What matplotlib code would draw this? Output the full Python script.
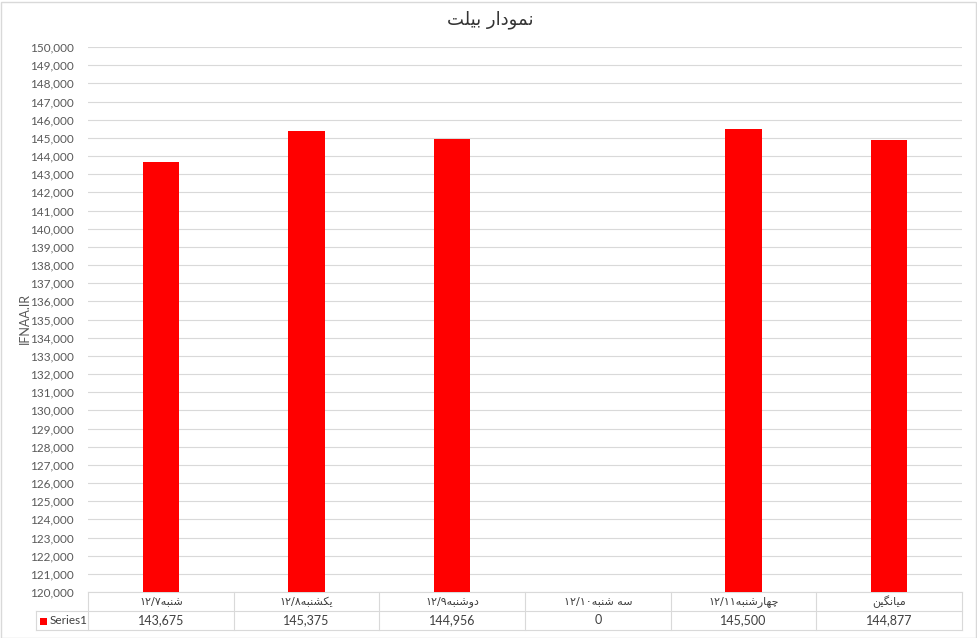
import matplotlib
matplotlib.use("Agg")
import matplotlib.pyplot as plt
from matplotlib.patches import Rectangle
from matplotlib.lines import Line2D
import matplotlib.transforms as mtransforms

# ---------------- data ----------------
title = "نمودار بیلت"
ylabel = "IFNAA.IR"
categories = ["شنبه۱۲/۷", "یکشنبه۱۲/۸", "دوشنبه۱۲/۹", "سه شنبه۱۲/۱۰", "چهارشنبه۱۲/۱۱", "میانگین"]
values = [143675, 145375, 144956, 0, 145500, 144877]
series_name = "Series1"
y_min, y_max, y_step = 120000, 150000, 1000

# ---------------- minimal Persian shaping (visual order) ----------------
FORMS = {
    '\u0627': ('\uFE8D', '\uFE8E', None, None),
    '\u0628': ('\uFE8F', '\uFE90', '\uFE91', '\uFE92'),
    '\u062A': ('\uFE95', '\uFE96', '\uFE97', '\uFE98'),
    '\u062C': ('\uFE9D', '\uFE9E', '\uFE9F', '\uFEA0'),
    '\u062F': ('\uFEA9', '\uFEAA', None, None),
    '\u0631': ('\uFEAD', '\uFEAE', None, None),
    '\u0633': ('\uFEB1', '\uFEB2', '\uFEB3', '\uFEB4'),
    '\u0634': ('\uFEB5', '\uFEB6', '\uFEB7', '\uFEB8'),
    '\u0644': ('\uFEDD', '\uFEDE', '\uFEDF', '\uFEE0'),
    '\u0645': ('\uFEE1', '\uFEE2', '\uFEE3', '\uFEE4'),
    '\u0646': ('\uFEE5', '\uFEE6', '\uFEE7', '\uFEE8'),
    '\u0647': ('\uFEE9', '\uFEEA', '\uFEEB', '\uFEEC'),
    '\u0648': ('\uFEED', '\uFEEE', None, None),
    '\u06CC': ('\uFBFC', '\uFBFD', '\uFBFE', '\uFBFF'),
    '\u06A9': ('\uFB8E', '\uFB8F', '\uFB90', '\uFB91'),
    '\u06AF': ('\uFB92', '\uFB93', '\uFB94', '\uFB95'),
    '\u0686': ('\uFB7A', '\uFB7B', '\uFB7C', '\uFB7D'),
}


def shape(word):
    out = []
    for i, ch in enumerate(word):
        if ch not in FORMS:
            out.append(ch)
            continue
        prev = word[i - 1] if i > 0 else ''
        nxt = word[i + 1] if i + 1 < len(word) else ''
        pj = prev in FORMS and FORMS[prev][2] is not None
        nj = FORMS[ch][2] is not None and nxt in FORMS
        iso, fin, ini, med = FORMS[ch]
        if pj and nj:
            out.append(med)
        elif pj:
            out.append(fin)
        elif nj:
            out.append(ini)
        else:
            out.append(iso)
    return ''.join(out)


def visual(s):
    # split trailing digit run (kept LTR) from the Persian words (RTL)
    i = len(s)
    while i > 0 and (s[i - 1] in '۰۱۲۳۴۵۶۷۸۹/'):
        i -= 1
    words, digits = s[:i], s[i:]
    return digits + shape(words)[::-1]


# ---------------- figure ----------------
W, H = 977, 638
fig = plt.figure(figsize=(W / 100, H / 100), dpi=100)
fig.patch.set_facecolor('white')
fig.patches.append(Rectangle((0.5 / W, 0.5 / H), (W - 2) / W, (H - 2) / H,
                             transform=fig.transFigure, fill=False,
                             edgecolor='#d9d9d9', linewidth=1.0))

left_px, right_px, top_px, bot_px = 88, 962, 47, 592
ax = fig.add_axes([left_px / W, (H - bot_px) / H,
                   (right_px - left_px) / W, (bot_px - top_px) / H])

n = len(categories)
xs = list(range(n))
ax.bar(xs, values, width=0.25, color='#ff0000', zorder=3)
ax.set_xlim(-0.5, n - 0.5)
ax.set_ylim(y_min, y_max)
ax.set_yticks(range(y_min, y_max + 1, y_step))
ax.set_yticklabels([f"{v:,}" for v in range(y_min, y_max + 1, y_step)])
ax.tick_params(axis='y', length=0, pad=10, labelsize=8.5, labelcolor='#595959')
for lab in ax.get_yticklabels():
    lab.set_family(['Lato', 'DejaVu Sans'])
ax.set_xticks([])
for sp in ax.spines.values():
    sp.set_visible(False)
ax.grid(axis='y', color='#d9d9d9', linewidth=0.8, zorder=0)
ax.set_axisbelow(True)

# ---------------- data table below the axis ----------------
ax_h_px = bot_px - top_px
row_h = 19 / ax_h_px
trans = mtransforms.blended_transform_factory(ax.transData, ax.transAxes)
lc = '#d9d9d9'
lw = 0.8
xl, xr = -0.5, n - 0.5
# horizontal lines
ax.add_line(Line2D([xl, xr], [0, 0], transform=trans, color=lc, lw=lw, clip_on=False))
key_left = -0.5 - (left_px - 36) / ((right_px - left_px) / n)
ax.add_line(Line2D([key_left, xr], [-row_h, -row_h], transform=trans, color=lc, lw=lw, clip_on=False))
ax.add_line(Line2D([key_left, xr], [-2 * row_h, -2 * row_h], transform=trans, color=lc, lw=lw, clip_on=False))
# vertical lines
for k in range(n + 1):
    xv = k - 0.5
    ax.add_line(Line2D([xv, xv], [0, -2 * row_h], transform=trans, color=lc, lw=lw, clip_on=False))
ax.add_line(Line2D([key_left, key_left], [-row_h, -2 * row_h], transform=trans, color=lc, lw=lw, clip_on=False))

for i, (c, v) in enumerate(zip(categories, values)):
    ax.text(i, -0.5 * row_h, visual(c), transform=trans, ha='center', va='center',
            fontsize=8, color='#404040', family=['DejaVu Sans'], clip_on=False)
    ax.text(i, -1.5 * row_h, f"{v:,}", transform=trans, ha='center', va='center',
            fontsize=9, color='#404040', family=['Lato', 'DejaVu Sans'], clip_on=False)

# legend key
fig.patches.append(Rectangle((40 / W, (H - 625) / H), 7 / W, 7 / H,
                             transform=fig.transFigure, facecolor='#ff0000', edgecolor='none'))
fig.text(50 / W, (H - 621) / H, series_name, ha='left', va='center', fontsize=8.5,
         color='#404040', family=['Lato', 'DejaVu Sans'])

# title and y label
fig.text(490 / W, (H - 20) / H, visual(title), ha='center', va='center', fontsize=13,
         color='#333333', family=['DejaVu Sans'])
fig.text(25 / W, (H - 318) / H, ylabel, ha='center', va='center', rotation=90,
         fontsize=9, color='#595959', family=['Lato', 'DejaVu Sans'])

fig.savefig('out.png', dpi=100, facecolor='white')
